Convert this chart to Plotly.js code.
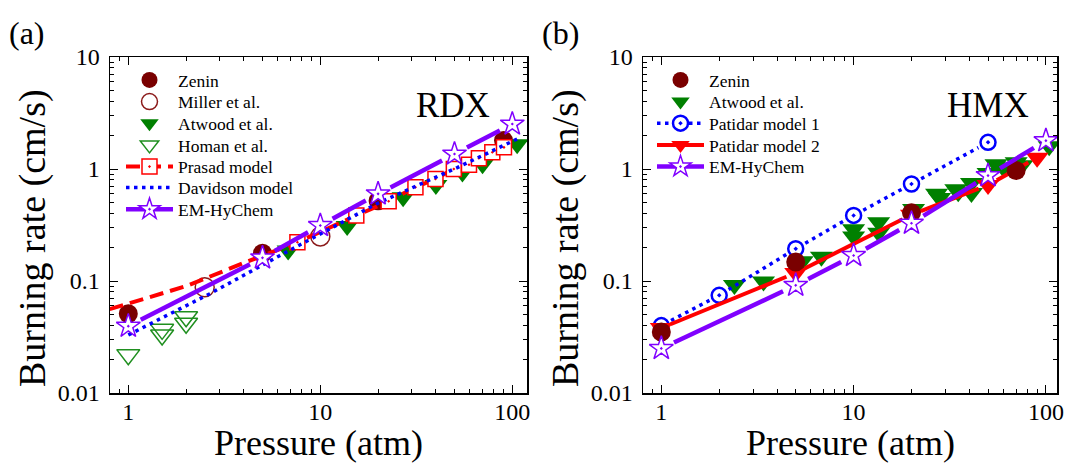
<!DOCTYPE html>
<html><head><meta charset="utf-8">
<script src="https://cdn.plot.ly/plotly-3.0.1.min.js"></script>
<style>html,body{margin:0;padding:0;background:#fff;} #chart{width:1069px;height:464px;}</style>
</head><body><div id="chart"></div>
<script>
// ---------- tick labels ----------
const xTickVals = [1, 10, 100];
const xTickText = ['1', '10', '100'];
const yTickVals = [0.01, 0.1, 1, 10];
const yTickText = ['0.01', '0.1', '1', '10'];

// ---------- (a) RDX ----------
const rdxZeninP = [1, 5, 20, 90];
const rdxZeninR = [0.051, 0.177, 0.52, 1.8];
const rdxMillerP = [2.5, 10];
const rdxMillerR = [0.088, 0.25];
const rdxAtwoodP = [6.8, 13.8, 27, 40, 55, 70, 106];
const rdxAtwoodR = [0.187, 0.31, 0.56, 0.72, 0.93, 1.1, 1.66];
const rdxHomanP = [1, 1.5, 1.5, 2, 2];
const rdxHomanR = [0.022, 0.037, 0.033, 0.048, 0.042];
const prasadLineP = [0.8, 2, 4, 7.6, 15.4, 22.7, 31.3, 39.8, 49.6, 59.5, 67, 78.7, 90.5];
const prasadLineR = [0.056, 0.09, 0.145, 0.222, 0.384, 0.515, 0.687, 0.815, 1.0, 1.09, 1.25, 1.41, 1.56];
const prasadSymP = [7.6, 15.4, 22.7, 31.3, 39.8, 49.6, 59.5, 67, 78.7, 90.5];
const prasadSymR = [0.222, 0.384, 0.515, 0.687, 0.815, 1.0, 1.09, 1.25, 1.41, 1.56];
const davidsonP = [1, 2.66, 6.17, 10, 19.7, 51.7, 110];
const davidsonR = [0.033, 0.077, 0.169, 0.264, 0.49, 1.03, 1.91];
const rdxEmP = [1, 5, 10, 20, 50, 100];
const rdxEmR = [0.0395, 0.161, 0.313, 0.60, 1.36, 2.52];

// ---------- (b) HMX ----------
const hmxZeninP = [1, 5, 20, 70];
const hmxZeninR = [0.035, 0.148, 0.406, 0.97];
const hmxAtwoodP = [2.4, 3.4, 5.4, 6.8, 10, 10, 13.5, 13.5, 20.5, 27, 28, 34, 35, 41, 41, 50, 55, 60, 70, 75, 104];
const hmxAtwoodR = [0.092, 0.099, 0.15, 0.165, 0.29, 0.25, 0.335, 0.27, 0.44, 0.6, 0.55, 0.66, 0.62, 0.75, 0.61, 0.92, 1.1, 1.03, 1.15, 1.08, 1.6];
const patidar1P = [1, 2, 5, 10, 20, 50];
const patidar1R = [0.040, 0.0745, 0.194, 0.385, 0.735, 1.73];
const patidar2P = [1, 5, 20, 50, 90];
const patidar2R = [0.038, 0.118, 0.39, 0.72, 1.26];
const hmxEmP = [1, 5, 10, 20, 50, 100];
const hmxEmR = [0.025, 0.0915, 0.169, 0.328, 0.873, 1.79];

// ---------- legend labels ----------
const legendNamesA = ['Zenin', 'Miller et al.', 'Atwood et al.', 'Homan et al.', 'Prasad model', 'Davidson model', 'EM-HyChem'];
const legendNamesB = ['Zenin', 'Atwood et al.', 'Patidar model 1', 'Patidar model 2', 'EM-HyChem'];

// ---------- geometry ----------
const W = 1069, H = 464, ML = 110, MR = 12, MT = 57, MB = 71;
const plotW = W - ML - MR, plotH = H - MT - MB;
const domA = [0, (527 - ML) / plotW];
const domB = [(643 - ML) / plotW, 1];
const rangeA = [-0.0953, 2.0766];
const rangeB = [-0.0952, 2.0577];
const yRange = [-2, 1];
const pxDecXA = (domA[1] - domA[0]) * plotW / (rangeA[1] - rangeA[0]);
const pxDecXB = (domB[1] - domB[0]) * plotW / (rangeB[1] - rangeB[0]);
const pxDecY = plotH / (yRange[1] - yRange[0]);
const px = v => (v - ML) / plotW;
const py = v => (H - MB - v) / plotH;

function gapLine(P, R, gap, pxX, pxY) {
  const x = [], y = [];
  for (let i = 0; i < P.length - 1; i++) {
    const lx0 = Math.log10(P[i]), lx1 = Math.log10(P[i + 1]);
    const ly0 = Math.log10(R[i]), ly1 = Math.log10(R[i + 1]);
    const L = Math.hypot((lx1 - lx0) * pxX, (ly1 - ly0) * pxY);
    const t = gap / L;
    if (t >= 0.5) continue;
    x.push(Math.pow(10, lx0 + t * (lx1 - lx0)), Math.pow(10, lx0 + (1 - t) * (lx1 - lx0)), null);
    y.push(Math.pow(10, ly0 + t * (ly1 - ly0)), Math.pow(10, ly0 + (1 - t) * (ly1 - ly0)), null);
  }
  return {x, y};
}

const C = {
  zenin: '#7a0000', miller: '#8b1a1a', atwood: '#008000', homan: '#1f8f1f',
  red: '#ff0000', blue: '#0000ff', purple: '#8000ff'
};
const dotDash = '3.5px,4.5px';

function pts(xa, ya, P, R, marker) {
  return {type: 'scatter', mode: 'markers', x: P, y: R, xaxis: xa, yaxis: ya,
    marker: marker, showlegend: false, hoverinfo: 'skip'};
}
function ln(xa, ya, x, y, line) {
  return {type: 'scatter', mode: 'lines', x: x, y: y, xaxis: xa, yaxis: ya, line: line,
    showlegend: false, connectgaps: false, hoverinfo: 'skip'};
}
function leg(name, legend, mode, marker, line) {
  const t = {type: 'scatter', mode: mode, x: [null], y: [null], name: name, legend: legend,
    showlegend: true, hoverinfo: 'skip'};
  if (marker) t.marker = marker;
  if (line) t.line = line;
  return t;
}

// marker styles
const mZenin = {symbol: 'circle', size: 19, color: C.zenin, line: {width: 0}};
const mMiller = {symbol: 'circle-open', size: 19, color: C.miller, line: {width: 1.5, color: C.miller}};
const mAtwood = {symbol: 'triangle-down', size: 20, color: C.atwood, line: {width: 0}};
const mHoman = {symbol: 'triangle-down-open', size: 20, color: C.homan, line: {width: 1.5, color: C.homan}};
const mPrasad = {symbol: 'square-dot', size: 15, color: '#ffffff', line: {width: 1.5, color: C.red}};
const mEm = {symbol: 'star-dot', size: 18, color: '#ffffff', line: {width: 1.5, color: C.purple}};
const mPat1 = {symbol: 'circle-dot', size: 15, color: '#ffffff', line: {width: 2.5, color: C.blue}};
const mPat2 = {symbol: 'triangle-down', size: 20, color: C.red, line: {width: 0}};

const lPrasad = {color: C.red, width: 4, dash: '14px,7px'};
const lDavidson = {color: C.blue, width: 3.5, dash: dotDash};
const lEm = {color: C.purple, width: 4.5};
const lPat1 = {color: C.blue, width: 3.5, dash: dotDash};
const lPat2 = {color: C.red, width: 4};

const emGapA = gapLine(rdxEmP, rdxEmR, 14, pxDecXA, pxDecY);
const emGapB = gapLine(hmxEmP, hmxEmR, 14, pxDecXB, pxDecY);
const pat1Gap = gapLine(patidar1P, patidar1R, 11, pxDecXB, pxDecY);
const pat2Gap = gapLine(patidar2P, patidar2R, 10, pxDecXB, pxDecY);

// legend keys: panel a -> legend, legend2..legend7 ; panel b -> legend8..legend12
const legKey = i => (i === 0 ? 'legend' : 'legend' + (i + 1));
const legStylesA = [
  ['markers', mZenin], ['markers', mMiller], ['markers', mAtwood], ['markers', mHoman],
  ['lines+markers', mPrasad, lPrasad], ['lines', null, lDavidson], ['lines+markers', mEm, lEm]
];
const legStylesB = [
  ['markers', mZenin], ['markers', mAtwood], ['lines+markers', mPat1, lPat1],
  ['lines+markers', mPat2, lPat2], ['lines+markers', mEm, lEm]
];

const traces = [
  // ----- panel a -----
  pts('x', 'y', rdxZeninP, rdxZeninR, mZenin),
  pts('x', 'y', rdxMillerP, rdxMillerR, mMiller),
  pts('x', 'y', rdxAtwoodP, rdxAtwoodR, mAtwood),
  pts('x', 'y', rdxHomanP, rdxHomanR, mHoman),
  ln('x', 'y', prasadLineP, prasadLineR, lPrasad),
  pts('x', 'y', prasadSymP, prasadSymR, mPrasad),
  ln('x', 'y', davidsonP, davidsonR, lDavidson),
  ln('x', 'y', emGapA.x, emGapA.y, lEm),
  pts('x', 'y', rdxEmP, rdxEmR, mEm),
  // ----- panel b -----
  pts('x2', 'y2', hmxAtwoodP, hmxAtwoodR, mAtwood),
  ln('x2', 'y2', pat1Gap.x, pat1Gap.y, lPat1),
  pts('x2', 'y2', patidar1P, patidar1R, mPat1),
  ln('x2', 'y2', pat2Gap.x, pat2Gap.y, lPat2),
  pts('x2', 'y2', patidar2P, patidar2R, mPat2),
  pts('x2', 'y2', hmxZeninP, hmxZeninR, mZenin),
  ln('x2', 'y2', emGapB.x, emGapB.y, lEm),
  pts('x2', 'y2', hmxEmP, hmxEmR, mEm)
];
legendNamesA.forEach((n, i) => {
  const s = legStylesA[i];
  traces.push(leg(n, legKey(i), s[0], s[1], s[2]));
});
legendNamesB.forEach((n, i) => {
  const s = legStylesB[i];
  traces.push(leg(n, legKey(i + 7), s[0], s[1], s[2]));
});

const serif = 'Liberation Serif, Times New Roman, serif';
function minorVals() {
  const v = [];
  for (let d = -3; d <= 2; d++) for (let k = 2; k <= 9; k++) v.push(k * Math.pow(10, d));
  return v;
}
function xAxis(domain, range, anchor) {
  return {type: 'log', domain: domain, range: range, anchor: anchor,
    tickmode: 'array', tickvals: xTickVals, ticktext: xTickText,
    ticks: 'inside', ticklen: 8, tickwidth: 1, tickcolor: '#000',
    minor: {tickmode: 'array', tickvals: minorVals(), ticks: 'inside', ticklen: 4, tickwidth: 1, tickcolor: '#000', showgrid: false},
    showline: true, linewidth: 1.5, linecolor: '#000', mirror: 'ticks',
    showgrid: false, zeroline: false, ticklabelstandoff: -3,
    tickfont: {family: serif, size: 24, color: '#000'}, fixedrange: true};
}
function yAxis(anchor) {
  return {type: 'log', domain: [0, 1], range: yRange, anchor: anchor,
    tickmode: 'array', tickvals: yTickVals, ticktext: yTickText,
    ticks: 'inside', ticklen: 8, tickwidth: 1, tickcolor: '#000',
    minor: {tickmode: 'array', tickvals: minorVals(), ticks: 'inside', ticklen: 4, tickwidth: 1, tickcolor: '#000', showgrid: false},
    showline: true, linewidth: 1.5, linecolor: '#000', mirror: 'ticks',
    showgrid: false, zeroline: false, ticklabelstandoff: 4,
    tickfont: {family: serif, size: 24, color: '#000'}, fixedrange: true};
}
function ann(text, x, y, size, extra) {
  return Object.assign({text: text, xref: 'paper', yref: 'paper', x: px(x), y: py(y),
    xanchor: 'center', yanchor: 'middle', showarrow: false,
    font: {family: serif, size: size, color: '#000'}}, extra || {});
}
function legendAt(x, y) {
  return {bgcolor: 'rgba(0,0,0,0)', borderwidth: 0, itemwidth: 47,
    font: {family: serif, size: 17.5, color: '#000'}, xanchor: 'left', yanchor: 'middle',
    x: px(x), y: py(y), itemclick: false, itemdoubleclick: false};
}

const rowYs = [80, 101.7, 123.3, 145, 166.7, 187.7, 209.3];

const layout = {
  width: W, height: H,
  margin: {l: ML, r: MR, t: MT, b: MB, pad: 0},
  paper_bgcolor: '#ffffff', plot_bgcolor: '#ffffff',
  font: {family: serif, size: 17, color: '#000'},
  showlegend: true,
  xaxis: xAxis(domA, rangeA, 'y'),
  yaxis: yAxis('x'),
  xaxis2: xAxis(domB, rangeB, 'y2'),
  yaxis2: yAxis('x2'),
  annotations: [
    ann('(a)', 27, 33, 32),
    ann('(b)', 560, 33, 32),
    ann('RDX', 453, 105, 35),
    ann('HMX', 988, 105, 35),
    ann('Pressure (atm)', 318.5, 443, 36),
    ann('Pressure (atm)', 850, 443, 36),
    ann('Burning rate (cm/s)', 32, 238, 38, {textangle: -90}),
    ann('Burning rate (cm/s)', 565, 238, 38, {textangle: -90})
  ]
};
legendNamesA.forEach((n, i) => { layout[legKey(i)] = legendAt(121, rowYs[i]); });
legendNamesB.forEach((n, i) => { layout[legKey(i + 7)] = legendAt(652, rowYs[i]); });

Plotly.newPlot('chart', traces, layout, {displayModeBar: false, staticPlot: true});
</script>
</body></html>
